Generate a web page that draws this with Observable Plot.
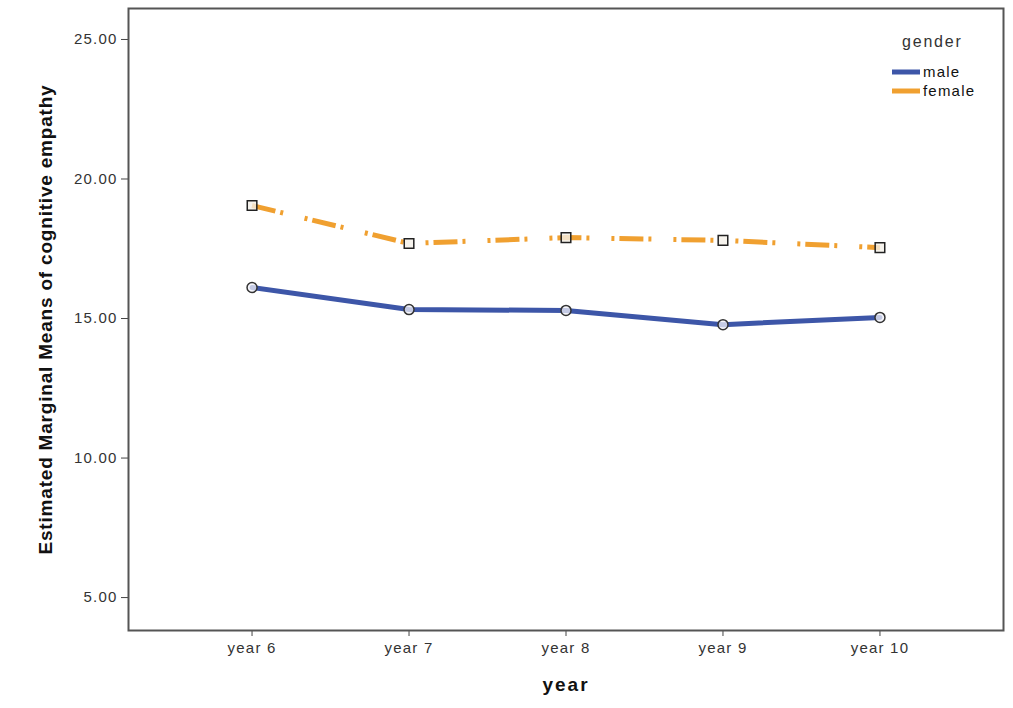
<!DOCTYPE html>
<html>
<head>
<meta charset="utf-8">
<script src="https://cdn.jsdelivr.net/npm/d3@7"></script>
<script src="https://cdn.jsdelivr.net/npm/@observablehq/plot@0.6"></script>
<style>
  body { margin: 0; background: #fff; font-family: "Liberation Sans", Arial, sans-serif; }
  #wrap { position: relative; width: 1013px; height: 708px; }
  #wrap svg g[aria-label="y-axis tick label"],
  #wrap svg g[aria-label="x-axis tick label"] { letter-spacing: 1.2px; }
  #legend { position: absolute; left: 880px; top: 30px; width: 120px; color: #222; }
  #legend .title { position: absolute; left: 22px; top: 3px; font-size: 16px; letter-spacing: 1.8px; color: #333; }
  #legend .row { position: absolute; left: 12px; height: 16px; font-size: 15px; letter-spacing: 1.2px; color: #111; }
  #legend .row svg { position: absolute; left: 0; top: 0; }
  #legend .row span { position: absolute; left: 31px; top: -1px; }
</style>
</head>
<body>
<div id="wrap"></div>
<script>
const years = ["year 6", "year 7", "year 8", "year 9", "year 10"];
const maleValues = [16.11, 15.32, 15.29, 14.78, 15.04];
const femaleValues = [19.05, 17.69, 17.90, 17.80, 17.54];
const genders = ["male", "female"];
const yTicks = [5, 10, 15, 20, 25];
const yTitle = "Estimated Marginal Means of cognitive empathy";
const xTitle = "year";

const colors = { male: "#3d56a8", female: "#f0a030" };

const rows = [
  ...years.map((y, i) => ({ year: y, value: maleValues[i], gender: "male" })),
  ...years.map((y, i) => ({ year: y, value: femaleValues[i], gender: "female" }))
];
const male = rows.filter(d => d.gender === "male");
const female = rows.filter(d => d.gender === "female");

const chart = Plot.plot({
  width: 1013,
  height: 708,
  marginLeft: 128,
  marginRight: 10,
  marginTop: 8,
  marginBottom: 78,
  style: { fontFamily: "'Liberation Sans', Arial, sans-serif", background: "#fff" },
  x: { type: "point", domain: years, padding: 0.787, round: false },
  y: { domain: [3.82, 26.11] },
  marks: [
    Plot.axisY({ ticks: yTicks, tickFormat: d3.format(".2f"), tickSize: 7, tickPadding: 4,
      fontSize: 15, fill: "#333", stroke: "#444", label: null }),
    Plot.axisX({ tickSize: 6, tickPadding: 6, fontSize: 15, fill: "#333", stroke: "#444", label: null }),
    Plot.line(male, { x: "year", y: "value", stroke: colors.male, strokeWidth: 5 }),
    Plot.line(female, { x: "year", y: "value", stroke: colors.female, strokeWidth: 5,
      strokeDasharray: "24,5,3,22,3,5", strokeLinecap: "butt" }),
    Plot.dot(male, { x: "year", y: "value", symbol: "circle", r: 5, stroke: "#333", strokeWidth: 1.5,
      fill: "#f2f2f8", fillOpacity: 0.75 }),
    Plot.dot(female, { x: "year", y: "value", symbol: "square", r: 5.4, stroke: "#222", strokeWidth: 1.5,
      fill: "#f4f0e8", fillOpacity: 0.8 }),
    Plot.frame({ stroke: "#555", strokeWidth: 2 }),
    Plot.text([yTitle], {
      frameAnchor: "left", dx: -83, rotate: -90, textAnchor: "middle", lineAnchor: "middle",
      fontSize: 19, fontWeight: "bold", fill: "#111" }),
    Plot.text([xTitle], {
      frameAnchor: "bottom", dy: 54, textAnchor: "middle", lineAnchor: "middle",
      fontSize: 19, fontWeight: "bold", fill: "#111" })
  ]
});

d3.select(chart).selectAll("text")
  .filter(function() { return this.textContent === yTitle; })
  .style("letter-spacing", "0.8px");
d3.select(chart).selectAll("text")
  .filter(function() { return this.textContent === xTitle; })
  .style("letter-spacing", "2px");

const wrap = document.getElementById("wrap");
wrap.appendChild(chart);

const legend = document.createElement("div");
legend.id = "legend";
legend.innerHTML = `<div class="title">gender</div>` + genders.map((g, i) => `
  <div class="row" style="top:${34 + i * 19}px">
    <svg width="30" height="16"><line x1="0" x2="28" y1="8" y2="8" stroke="${colors[g]}" stroke-width="5"/></svg>
    <span>${g}</span>
  </div>`).join("");
wrap.appendChild(legend);
</script>
</body>
</html>
